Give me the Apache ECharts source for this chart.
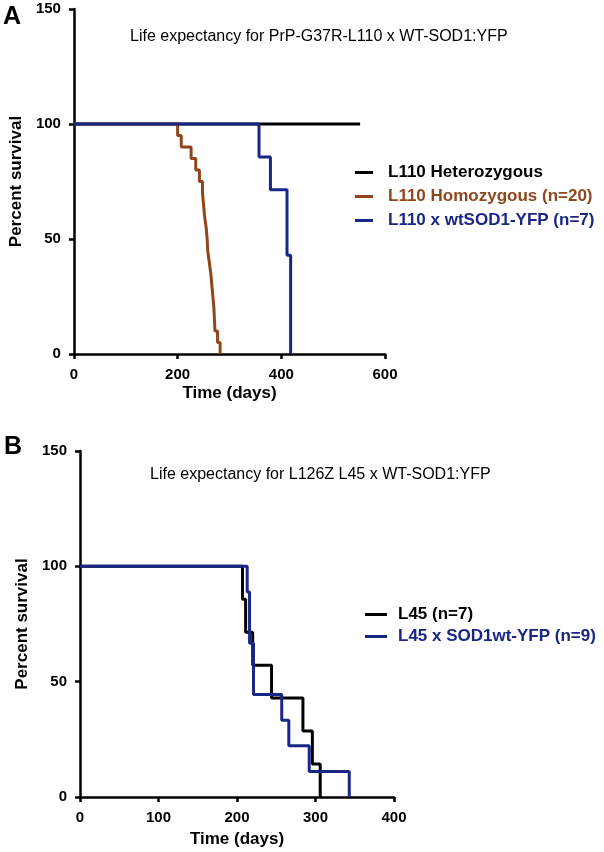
<!DOCTYPE html>
<html>
<head>
<meta charset="utf-8">
<script src="https://cdn.jsdelivr.net/npm/echarts@6/dist/echarts.min.js"></script>
<style>html,body{margin:0;padding:0;background:#fff}#c{width:604px;height:852px}</style>
</head>
<body>
<div id="c"></div>
<script>
// Panel A: PrP-G37R-L110 x WT-SOD1:YFP
const titleA = 'Life expectancy for PrP-G37R-L110 x WT-SOD1:YFP';
const hetTimes = [0, 552];
const hetSurv = [100, 100];
const homTimes = [0, 200, 207, 226, 235, 242, 248, 250, 252, 255, 257, 258, 261, 264, 266, 268, 270, 271, 272, 277, 282];
const homSurv = [100, 95, 90, 85, 80, 75, 70, 65, 60, 55, 50, 45, 40, 35, 30, 25, 20, 15, 10, 5, 0];
const l110wtTimes = [0, 357, 379, 411, 418];
const l110wtSurv = [100, 85.7, 71.4, 42.9, 0];
const namesA = ['L110 Heterozygous', 'L110 Homozygous (n=20)', 'L110 x wtSOD1-YFP (n=7)'];
const xTicksA = [0, 200, 400, 600];

// Panel B: L126Z L45 x WT-SOD1:YFP
const titleB = 'Life expectancy for L126Z L45 x WT-SOD1:YFP';
const l45Times = [0, 207, 211, 220, 244, 284, 296, 306];
const l45Surv = [100, 85.7, 71.4, 57.1, 42.9, 28.6, 14.3, 0];
const l45wtTimes = [0, 213, 216, 221, 257, 266, 292, 343];
const l45wtSurv = [100, 88.9, 66.7, 44.4, 33.3, 22.2, 11.1, 0];
const namesB = ['L45 (n=7)', 'L45 x SOD1wt-YFP (n=9)'];
const xTicksB = [0, 100, 200, 300, 400];
const yTicks = [0, 50, 100, 150];

const BLACK = '#000000', BROWN = '#90461c', NAVY = '#1a2686';
const FONT = 'Liberation Sans, Arial, sans-serif';

function pairs(t, s) { return t.map((v, i) => [v, s[i]]); }

function xAxis(gi, ticks, gap) {
  return {
    gridIndex: gi, type: 'value', min: 0, max: ticks[ticks.length - 1], interval: ticks[1] - ticks[0],
    name: 'Time (days)', nameLocation: 'middle', nameGap: gap,
    nameTextStyle: { fontFamily: FONT, fontWeight: 'bold', fontSize: 17, color: '#000' },
    axisLine: { lineStyle: { color: '#000', width: 2.5 } },
    axisTick: { show: true, length: 5, lineStyle: { color: '#000', width: 2.5 } },
    axisLabel: { fontFamily: FONT, fontWeight: 'bold', fontSize: 15, color: '#000', margin: 13 },
    splitLine: { show: false }
  };
}
function yAxis(gi) {
  return {
    gridIndex: gi, type: 'value', min: yTicks[0], max: yTicks[yTicks.length - 1], interval: yTicks[1] - yTicks[0],
    name: 'Percent survival', nameLocation: 'middle', nameGap: 44, nameRotate: 90,
    nameTextStyle: { fontFamily: FONT, fontWeight: 'bold', fontSize: 17, color: '#000' },
    axisLine: { show: true, lineStyle: { color: '#000', width: 2.5 } },
    axisTick: { show: true, length: 5, lineStyle: { color: '#000', width: 2.5 } },
    axisLabel: { fontFamily: FONT, fontWeight: 'bold', fontSize: 15, color: '#000', margin: 13 },
    splitLine: { show: false }
  };
}
function step(name, xi, data, color, z) {
  return {
    name, type: 'line', xAxisIndex: xi, yAxisIndex: xi, step: 'end', data,
    showSymbol: false, symbol: 'none', z, lineStyle: { color, width: 3 }, itemStyle: { color },
    animation: false
  };
}

const chart = echarts.init(document.getElementById('c'), null, { renderer: 'canvas' });
chart.setOption({
  backgroundColor: '#fff',
  animation: false,
  title: [
    { text: titleA, left: 125, top: 24, textStyle: { fontFamily: FONT, fontWeight: 'normal', fontSize: 16, color: '#000' } },
    { text: titleB, left: 145, top: 462, textStyle: { fontFamily: FONT, fontWeight: 'normal', fontSize: 16, color: '#000' } }
  ],
  graphic: [
    { type: 'text', left: 3, top: 5, style: { text: 'A', font: 'bold 25px ' + FONT, fill: '#000' } },
    { type: 'text', left: 4, top: 435, style: { text: 'B', font: 'bold 25px ' + FONT, fill: '#000' } }
  ],
  legend: [
    {
      orient: 'vertical', left: 350, top: 159, itemWidth: 18, itemHeight: 3, itemGap: 7, icon: 'rect',
      data: [
        { name: namesA[0], textStyle: { color: BLACK } },
        { name: namesA[1], textStyle: { color: BROWN } },
        { name: namesA[2], textStyle: { color: NAVY } }
      ],
      textStyle: { fontFamily: FONT, fontWeight: 'bold', fontSize: 17, padding: [0, 0, 0, 10] }
    },
    {
      orient: 'vertical', left: 360, top: 601, itemWidth: 22, itemHeight: 3, itemGap: 5, icon: 'rect',
      data: [
        { name: namesB[0], textStyle: { color: BLACK } },
        { name: namesB[1], textStyle: { color: NAVY } }
      ],
      textStyle: { fontFamily: FONT, fontWeight: 'bold', fontSize: 17, padding: [0, 0, 0, 6] }
    }
  ],
  grid: [
    { left: 72, top: 9, width: 313, height: 345 },
    { left: 80, top: 451, width: 314, height: 346 }
  ],
  xAxis: [xAxis(0, xTicksA, 31), xAxis(1, xTicksB, 34)],
  yAxis: [yAxis(0), yAxis(1)],
  series: [
    step(namesA[0], 0, pairs(hetTimes, hetSurv), BLACK, 2),
    step(namesA[1], 0, pairs(homTimes, homSurv), BROWN, 3),
    step(namesA[2], 0, pairs(l110wtTimes, l110wtSurv), NAVY, 4),
    step(namesB[0], 1, pairs(l45Times, l45Surv), BLACK, 2),
    step(namesB[1], 1, pairs(l45wtTimes, l45wtSurv), NAVY, 3)
  ]
});
</script>
</body>
</html>
